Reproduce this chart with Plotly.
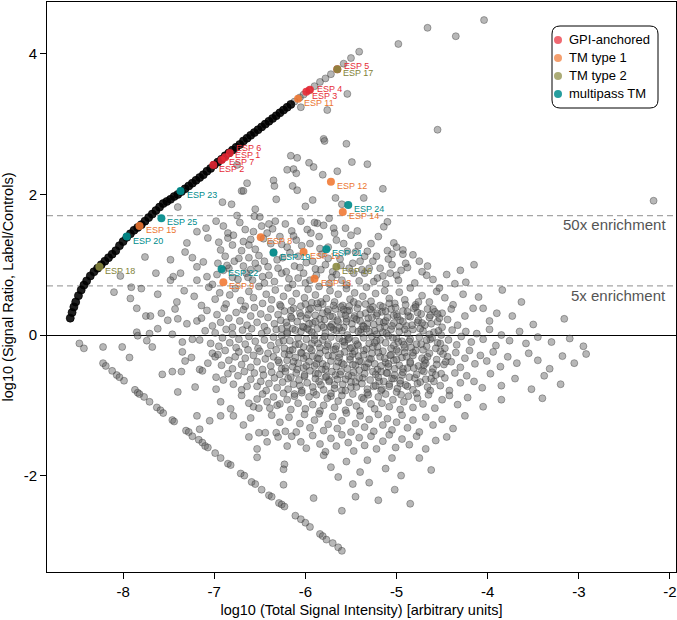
import math
import plotly.graph_objects as go

# ---------------- data ----------------
# dense upper boundary curve (label only, control at floor)
curve_x = [-8.58,-8.56,-8.54,-8.52,-8.49,-8.46,-8.43,-8.40,-8.36,-8.32,-8.28,-8.24,-8.20,-8.16,-8.12,-8.08,
           -8.04,-8.00,-7.96,-7.92,-7.88,-7.84,-7.80,-7.76,-7.72,-7.68,-7.64,-7.60,-7.56,-7.52,-7.48,-7.44,
           -7.40,-7.36,-7.32,-7.28,-7.24,-7.20,-7.16,-7.12,-7.08,-7.04,-7.00,-6.96,-6.92,-6.88,-6.84,-6.80,
           -6.76,-6.72,-6.68,-6.64,-6.60,-6.56,-6.52,-6.48,-6.44,-6.40,-6.36,-6.32,-6.28,-6.24,-6.20,-6.16]
curve_y = [0.24,0.32,0.40,0.47,0.56,0.64,0.71,0.77,0.84,0.90,0.95,1.00,1.05,1.10,1.15,1.20,
           1.27,1.33,1.39,1.44,1.49,1.53,1.57,1.62,1.67,1.72,1.77,1.82,1.87,1.90,1.93,1.97,
           2.00,2.04,2.08,2.12,2.16,2.20,2.24,2.28,2.33,2.37,2.42,2.46,2.50,2.55,2.59,2.63,
           2.67,2.71,2.76,2.80,2.84,2.88,2.92,2.96,3.00,3.04,3.08,3.12,3.16,3.20,3.24,3.28]

# lower boundary line (control only)
lower_x = [-8.48,-8.43,-8.22,-8.19,-8.12,-8.07,-8.04,-7.99,-7.87,-7.84,-7.82,-7.77,-7.71,-7.63,-7.59,-7.56,
           -7.46,-7.44,-7.31,-7.28,-7.24,-7.17,-7.13,-7.10,-7.07,-6.99,-6.93,-6.85,-6.82,-6.71,-6.67,-6.59,
           -6.55,-6.48,-6.40,-6.37,-6.29,-6.26,-6.23,-6.11,-6.05,-6.00,-5.95,-5.84,-5.81,-5.77,-5.70,-5.64,-5.60]
lower_y = [-0.12,-0.19,-0.40,-0.44,-0.51,-0.57,-0.60,-0.65,-0.78,-0.82,-0.84,-0.88,-0.95,-1.03,-1.07,-1.11,
           -1.21,-1.23,-1.36,-1.38,-1.44,-1.49,-1.53,-1.58,-1.60,-1.68,-1.75,-1.83,-1.85,-1.97,-2.00,-2.09,
           -2.12,-2.20,-2.28,-2.30,-2.39,-2.41,-2.44,-2.57,-2.62,-2.67,-2.73,-2.83,-2.86,-2.91,-2.96,-3.02,-3.07]

# general protein cloud, upper part (y > 0.7)
cloud_upper = [
    (-6.12,3.32),(-6.06,3.38),(-6.02,3.42),(-5.96,3.48),(-5.90,3.54),(-5.84,3.60),(-5.78,3.65),(-5.72,3.71),
    (-5.58,3.86),(-5.50,3.94),(-5.41,4.03),(-4.98,4.14),(-4.66,4.37),(-4.35,4.25),(-4.04,4.48),
    (-5.54,3.43),(-5.76,3.20),(-6.05,3.24),(-5.80,2.79),(-4.55,2.92),
    (-5.79,2.76),(-5.55,2.72),(-6.16,2.55),(-6.09,2.52),(-5.96,2.45),(-5.91,2.39),(-6.20,2.35),(-6.13,2.36),
    (-6.10,2.30),(-6.75,2.42),(-5.81,2.28),(-5.49,2.46),(-6.64,2.16),(-6.35,2.20),(-6.34,2.12),(-6.14,2.12),
    (-6.09,2.06),(-6.70,2.05),(-6.68,2.05),(-5.32,2.43),(-5.65,2.33),(-5.15,2.08),(-5.36,1.95),(-5.67,1.95),
    (-6.32,1.93),(-5.92,1.92),(-6.00,1.83),(-6.91,1.89),(-6.81,1.86),(-6.55,1.79),(-6.56,1.69),(-5.60,1.86),
    (-5.74,1.66),(-5.10,1.61),(-5.14,1.54),(-5.87,1.59),(-5.69,1.52),(-5.56,1.52),(-7.40,1.82),
    (-7.76,1.11),(-7.64,0.88),(-8.03,0.84),(-7.91,0.68),(-7.48,1.07),(-7.37,0.88),(-7.45,0.83),
    (-7.48,0.78),(-7.32,1.18),(-7.24,1.10),(-7.19,0.97),(-7.19,0.78),(-7.12,1.04),(-7.08,0.83),(-7.19,1.47),
    (-7.09,1.52),(-7.07,1.38),(-7.30,1.31),
    (-6.98,1.62),(-6.90,1.55),(-6.85,1.45),(-6.95,1.32),(-6.80,1.28),(-6.72,1.60),(-6.66,1.50),(-6.60,1.36),
    (-6.70,1.20),(-6.88,1.12),(-6.96,1.02),(-6.78,1.05),(-6.62,1.10),(-6.55,1.22),(-6.48,1.55),(-6.42,1.45),
    (-6.38,1.30),(-6.45,1.05),(-6.52,0.95),(-6.65,0.88),(-6.80,0.82),(-6.58,0.78),(-6.40,0.85),(-6.30,0.95),
    (-6.25,1.10),(-6.20,1.25),(-6.28,1.40),(-6.22,1.58),(-6.15,1.48),(-6.10,1.35),(-6.05,1.62),(-5.98,1.50),
    (-5.95,1.30),(-6.08,1.12),(-6.12,0.98),(-6.02,0.88),(-6.18,0.80),(-5.92,1.05),(-5.85,1.40),(-5.82,1.15),
    (-5.78,1.00),(-5.88,0.85),(-5.70,0.90),(-5.62,1.08),(-5.58,1.30),(-5.50,1.42),(-5.45,1.18),(-5.52,0.95),
    (-5.40,1.05),(-5.35,0.88),(-5.28,1.30),(-5.22,1.12),(-5.18,0.95),(-5.10,1.20),(-5.05,1.00),(-5.00,0.85),
    (-4.93,1.21),(-4.93,1.15),(-5.05,1.15),(-5.42,1.27),(-5.35,1.12),(-5.03,1.31),(-6.33,1.62),(-6.50,1.68),
    (-6.75,1.70),(-6.90,0.92),(-7.02,0.72),(-6.45,0.74),(-6.00,0.74),(-5.60,0.78),(-5.25,0.76),(-6.68,0.98),
    (-6.35,1.18),(-5.75,1.25),(-6.40,1.58),(-6.62,1.28),(-5.90,1.60),(-5.68,1.45),(-6.85,1.38),(-6.55,1.02),
    (-4.15,1.00),(-4.66,0.98),(-4.95,0.92),(-4.67,0.85),(-4.24,0.75),
    (-6.97,0.86),(-6.84,0.95),(-6.74,0.79),(-6.60,0.93),(-6.47,0.83),(-6.34,0.76),(-6.26,0.88),(-6.14,0.72),
    (-6.06,0.96),(-5.95,0.78),(-5.83,0.93),(-5.74,0.73),(-5.66,0.86),(-5.55,0.71),(-5.47,0.88),(-5.41,0.77),
    (-5.30,0.95),(-5.21,0.81),(-5.12,0.73),(-5.07,0.88),(-4.98,0.78),(-4.88,0.96),(-4.80,0.74),(-4.72,0.90),
    (-4.60,0.79),(-4.45,0.86),(-4.36,0.73),(-4.30,0.92),
    (-6.93,1.21),(-6.86,0.99),(-6.79,1.42),(-6.73,1.09),(-6.68,1.33),(-6.63,0.82),(-6.57,1.47),(-6.51,1.13),
    (-6.46,1.37),(-6.41,0.97),(-6.36,1.51),(-6.31,1.07),(-6.26,1.29),(-6.21,0.90),(-6.17,1.17),(-6.13,1.41),
    (-6.08,0.81),(-6.04,1.27),(-5.99,1.03),(-5.94,1.45),(-5.89,0.94),(-5.84,1.23),(-5.80,1.56),(-5.75,1.09),
    (-5.71,0.82),(-5.66,1.35),(-5.61,0.99),(-5.54,1.19),(-5.48,1.02),(-5.43,1.48),(-5.38,0.93),(-5.32,1.19),
    (-5.26,1.05),(-5.20,1.40),(-5.15,0.84),(-5.09,1.08),(-5.00,1.25),(-4.90,1.02),(-4.82,1.14),(-4.75,1.05),
    (-2.18,1.91),
]

# general protein cloud, middle part (-0.5 .. 0.7)
cloud_middle = [
    (-8.10,0.61),(-7.92,0.52),(-7.80,0.66),(-7.62,0.58),(-7.41,0.47),(-7.33,0.63),(-7.22,0.55),(-7.14,0.42),
    (-7.06,0.68),(-6.99,0.51),(-6.94,0.60),(-6.87,0.44),(-6.83,0.57),(-6.77,0.66),(-6.71,0.49),(-6.66,0.41),
    (-6.62,0.62),(-6.57,0.53),(-6.51,0.69),(-6.47,0.45),(-6.43,0.58),(-6.37,0.50),(-6.33,0.64),(-6.28,0.43),
    (-6.24,0.55),(-6.19,0.67),(-6.15,0.48),(-6.10,0.59),(-6.05,0.41),(-6.01,0.53),(-5.97,0.65),(-5.93,0.46),
    (-5.89,0.57),(-5.85,0.69),(-5.81,0.44),(-5.77,0.52),(-5.73,0.63),(-5.68,0.47),(-5.64,0.58),(-5.59,0.42),
    (-5.55,0.66),(-5.51,0.51),(-5.46,0.60),(-5.42,0.44),(-5.37,0.55),(-5.33,0.68),(-5.28,0.48),(-5.23,0.59),
    (-5.18,0.42),(-5.13,0.63),(-5.08,0.52),(-5.02,0.45),(-4.97,0.61),(-4.91,0.50),(-4.85,0.67),(-4.79,0.43),
    (-4.72,0.56),(-4.64,0.47),(-4.56,0.62),(-4.47,0.53),(-4.38,0.43),(-4.27,0.58),(-4.10,0.54),(-3.84,0.64),
    (-3.63,0.47),(-4.53,0.67),(-4.76,0.47),
    (-7.85,0.38),(-7.75,0.27),(-7.70,0.27),(-7.58,0.31),(-7.51,0.21),(-7.43,0.37),(-7.40,0.23),(-7.30,0.16),
    (-7.19,0.20),(-7.14,0.24),(-7.08,0.35),(-7.02,0.13),(-6.97,0.29),(-6.93,0.18),(-6.89,0.38),(-6.84,0.24),
    (-6.80,0.11),(-6.76,0.32),(-6.72,0.20),(-6.68,0.36),(-6.64,0.14),(-6.60,0.27),(-6.56,0.39),(-6.53,0.18),
    (-6.49,0.30),(-6.45,0.12),(-6.41,0.25),(-6.38,0.37),(-6.34,0.16),(-6.30,0.29),(-6.27,0.21),(-6.23,0.34),
    (-6.20,0.13),(-6.16,0.26),(-6.13,0.38),(-6.09,0.19),(-6.06,0.31),(-6.02,0.11),(-5.99,0.24),(-5.96,0.36),
    (-5.92,0.17),(-5.89,0.28),(-5.86,0.39),(-5.82,0.14),(-5.79,0.22),(-5.76,0.33),(-5.73,0.12),(-5.70,0.26),
    (-5.67,0.37),(-5.64,0.19),(-5.61,0.30),(-5.58,0.11),(-5.55,0.23),(-5.52,0.35),(-5.49,0.16),(-5.46,0.27),
    (-5.43,0.38),(-5.40,0.20),(-5.37,0.13),(-5.34,0.31),(-5.31,0.24),(-5.28,0.36),(-5.25,0.15),(-5.22,0.28),
    (-5.19,0.19),(-5.16,0.33),(-5.13,0.12),(-5.10,0.25),(-5.06,0.37),(-5.03,0.17),(-5.00,0.29),(-4.96,0.21),
    (-4.93,0.34),(-4.89,0.13),(-4.85,0.26),(-4.81,0.38),(-4.77,0.18),(-4.73,0.30),(-4.69,0.14),(-4.64,0.25),
    (-4.60,0.37),(-4.55,0.19),(-4.50,0.31),(-4.44,0.22),(-4.40,0.37),(-4.33,0.14),(-4.25,0.27),(-4.16,0.38),
    (-4.05,0.38),(-3.98,0.20),(-3.90,0.31),(-3.73,0.27),(-3.50,0.15),(-3.16,0.23),
    (-7.62,0.09),(-7.85,0.04),(-7.84,-0.01),(-7.71,0.02),(-7.74,-0.08),(-7.68,-0.17),(-7.46,0.01),(-7.35,-0.10),
    (-7.24,-0.06),(-7.16,-0.07),(-7.10,0.06),(-7.04,-0.12),(-6.99,0.03),(-6.95,-0.16),(-6.91,-0.04),(-6.87,0.08),
    (-6.83,-0.11),(-6.80,0.01),(-6.76,-0.18),(-6.73,-0.06),(-6.69,0.07),(-6.66,-0.13),(-6.62,-0.02),(-6.59,0.09),
    (-6.55,-0.09),(-6.52,-0.19),(-6.48,0.02),(-6.45,-0.07),(-6.42,0.06),(-6.38,-0.15),(-6.35,-0.03),(-6.32,0.08),
    (-6.29,-0.11),(-6.26,-0.01),(-6.23,-0.19),(-6.20,0.04),(-6.17,-0.08),(-6.14,0.09),(-6.11,-0.14),(-6.08,-0.04),
    (-6.05,0.05),(-6.02,-0.17),(-5.99,-0.06),(-5.96,0.07),(-5.93,-0.12),(-5.90,-0.01),(-5.87,0.09),(-5.84,-0.18),
    (-5.81,-0.07),(-5.78,0.03),(-5.75,-0.13),(-5.72,-0.03),(-5.69,0.08),(-5.66,-0.16),(-5.63,-0.05),(-5.60,0.06),
    (-5.57,-0.10),(-5.54,0.00),(-5.51,-0.19),(-5.48,0.08),(-5.45,-0.08),(-5.42,-0.15),(-5.39,0.03),(-5.36,-0.04),
    (-5.33,0.09),(-5.30,-0.12),(-5.27,-0.02),(-5.24,0.06),(-5.21,-0.17),(-5.18,-0.07),(-5.15,0.04),(-5.12,-0.11),
    (-5.09,-0.01),(-5.06,0.08),(-5.03,-0.15),(-5.00,-0.05),(-4.97,0.05),(-4.94,-0.09),(-4.91,-0.18),(-4.88,0.02),
    (-4.85,-0.06),(-4.82,0.08),(-4.78,-0.13),(-4.75,-0.03),(-4.71,0.06),(-4.67,-0.16),(-4.63,-0.06),(-4.59,0.04),
    (-4.55,-0.11),(-4.51,0.00),(-4.47,-0.19),(-4.43,-0.07),(-4.39,0.07),(-4.34,-0.14),(-4.29,-0.02),(-4.24,0.05),
    (-4.18,-0.10),(-4.12,0.02),(-4.05,-0.06),(-3.98,0.08),(-3.91,-0.15),(-3.85,0.00),(-3.76,-0.08),(-3.65,0.05),
    (-3.58,-0.12),(-3.45,-0.03),(-3.30,-0.10),(-3.10,-0.05),(-2.95,-0.16),
    (-8.22,-0.17),(-8.01,-0.17),(-7.93,-0.32),(-7.46,-0.52),(-7.36,-0.52),(-7.35,-0.24),(-7.32,-0.37),(-7.25,-0.32),
    (-7.16,-0.49),(-7.13,-0.51),(-7.07,-0.40),(-7.02,-0.26),(-6.99,-0.31),(-6.96,-0.28),(-6.92,-0.43),(-6.88,-0.22),
    (-6.84,-0.36),(-6.80,-0.48),(-6.77,-0.31),(-6.73,-0.24),(-6.70,-0.42),(-6.66,-0.33),(-6.63,-0.21),(-6.60,-0.46),
    (-6.57,-0.29),(-6.53,-0.38),(-6.50,-0.23),(-6.47,-0.49),(-6.44,-0.34),(-6.41,-0.26),(-6.38,-0.44),(-6.35,-0.31),
    (-6.32,-0.21),(-6.29,-0.39),(-6.26,-0.48),(-6.23,-0.27),(-6.20,-0.36),(-6.17,-0.22),(-6.14,-0.45),(-6.11,-0.32),
    (-6.08,-0.40),(-6.05,-0.25),(-6.02,-0.47),(-5.99,-0.30),(-5.96,-0.38),(-5.93,-0.22),(-5.90,-0.44),(-5.87,-0.33),
    (-5.84,-0.26),(-5.81,-0.41),(-5.78,-0.49),(-5.75,-0.29),(-5.72,-0.37),(-5.69,-0.21),(-5.66,-0.45),(-5.63,-0.32),
    (-5.60,-0.40),(-5.57,-0.24),(-5.54,-0.48),(-5.51,-0.35),(-5.48,-0.27),(-5.45,-0.43),(-5.42,-0.30),(-5.39,-0.38),
    (-5.36,-0.22),(-5.33,-0.46),(-5.30,-0.34),(-5.27,-0.26),(-5.24,-0.41),(-5.21,-0.49),(-5.18,-0.31),(-5.15,-0.23),
    (-5.12,-0.39),(-5.09,-0.45),(-5.06,-0.28),(-5.03,-0.36),(-5.00,-0.21),(-4.97,-0.43),(-4.94,-0.32),(-4.91,-0.25),
    (-4.88,-0.47),(-4.85,-0.38),(-4.82,-0.29),(-4.79,-0.22),(-4.76,-0.44),(-4.72,-0.33),(-4.68,-0.40),(-4.64,-0.26),
    (-4.60,-0.48),(-4.56,-0.35),(-4.52,-0.23),(-4.48,-0.42),(-4.44,-0.31),(-4.40,-0.38),(-4.35,-0.25),(-4.30,-0.46),
    (-4.25,-0.33),(-4.20,-0.22),(-4.14,-0.41),(-4.08,-0.29),(-4.01,-0.37),(-3.94,-0.24),(-3.86,-0.45),(-3.78,-0.31),
    (-3.68,-0.40),(-3.55,-0.26),(-3.45,-0.36),(-3.32,-0.48),(-3.18,-0.30),(-3.05,-0.40),(-2.92,-0.27),
]

# dense core of the cloud
cloud_core = [
    (-6.27,0.41),(-6.19,-0.62),(-6.11,0.07),(-6.02,-0.33),(-5.97,0.29),(-5.91,-0.81),(-5.86,-0.12),(-5.83,0.47),
    (-5.77,-0.44),(-5.71,0.15),(-5.68,-0.71),(-5.62,-0.27),(-5.58,0.36),(-5.53,-0.06),(-5.49,-0.58),(-5.44,0.22),
    (-5.41,-0.37),(-5.34,0.44),(-5.31,-0.85),(-5.26,-0.17),(-5.21,0.31),(-5.17,-0.52),(-5.11,0.02),(-5.07,-0.29),
    (-5.01,0.39),(-4.96,-0.69),(-4.92,-0.14),(-4.87,0.27),(-4.81,-0.47),(-4.74,0.09),(-4.69,-0.36),(-4.63,-0.79),
    (-4.58,0.33),(-4.52,-0.12),
    (-6.24,-0.08),(-6.16,0.35),(-6.09,-0.49),(-6.03,0.12),(-5.95,-0.19),(-5.89,-0.55),(-5.84,0.23),(-5.79,-0.02),
    (-5.74,-0.64),(-5.69,0.42),(-5.64,-0.38),(-5.59,-0.09),(-5.55,0.19),(-5.50,-0.74),(-5.46,-0.23),(-5.39,0.08),
    (-5.35,-0.46),(-5.29,0.37),(-5.24,-0.11),(-5.19,-0.66),(-5.14,0.18),(-5.09,-0.41),(-5.04,-0.04),(-4.99,0.26),
    (-4.94,-0.57),(-4.89,-0.31),(-4.83,0.14),(-4.78,-0.83),(-4.71,-0.21),(-4.66,0.37),(-4.61,-0.53),(-4.54,0.06),
    (-4.49,-0.27),
    (-6.30,-0.36),(-6.21,0.18),(-6.14,-0.21),(-6.06,-0.72),(-6.00,0.44),(-5.93,0.04),(-5.88,-0.41),(-5.81,0.31),
    (-5.76,-0.16),(-5.72,-0.87),(-5.66,0.06),(-5.61,-0.52),(-5.56,0.28),(-5.51,-0.31),(-5.47,0.47),(-5.43,-0.13),
    (-5.37,-0.61),(-5.32,0.16),(-5.28,-0.34),(-5.22,0.01),(-5.16,-0.77),(-5.12,0.34),(-5.06,-0.19),(-5.02,-0.48),
    (-4.97,0.12),(-4.90,0.43),(-4.86,-0.09),(-4.80,-0.61),(-4.76,0.21),(-4.70,-0.43),(-4.64,0.01),(-4.59,-0.66),
    (-4.53,0.24),(-4.46,-0.38),
    (-6.26,0.09),(-6.18,-0.28),(-6.12,-0.84),(-6.05,0.27),(-5.99,-0.44),(-5.94,0.38),(-5.90,-0.07),(-5.85,-0.66),
    (-5.80,0.11),(-5.75,0.36),(-5.70,-0.30),(-5.65,0.21),(-5.60,-0.79),(-5.57,-0.15),(-5.52,0.41),(-5.48,-0.42),
    (-5.42,0.05),(-5.38,-0.89),(-5.33,-0.20),(-5.27,0.25),(-5.23,-0.56),(-5.18,0.10),(-5.13,-0.33),(-5.08,0.45),
    (-5.03,-0.62),(-4.98,-0.24),(-4.93,0.19),(-4.88,-0.73),(-4.84,-0.18),(-4.77,0.32),(-4.72,-0.50),(-4.67,-0.07),
    (-4.62,0.16),(-4.56,-0.42),(-4.50,0.11),
    (-6.22,-0.47),(-6.15,0.24),(-6.07,-0.13),(-6.01,-0.59),(-5.96,0.16),(-5.92,-0.30),(-5.87,0.45),(-5.82,-0.49),
    (-5.78,-0.22),(-5.73,0.27),(-5.67,-0.57),(-5.63,0.10),(-5.58,-0.42),(-5.54,0.34),(-5.49,-0.18),(-5.45,-0.67),
    (-5.40,0.29),(-5.36,-0.28),(-5.30,0.05),(-5.25,-0.73),(-5.20,-0.25),(-5.15,0.40),(-5.10,-0.54),(-5.05,0.13),
    (-5.00,-0.35),(-4.95,-0.85),(-4.91,0.08),(-4.85,-0.40),(-4.79,0.40),(-4.73,-0.13),(-4.68,-0.63),(-4.63,0.28),
    (-4.57,-0.19),(-4.51,-0.55),
    (-6.20,0.02),(-6.13,-0.38),(-6.04,-0.26),(-5.98,0.09),(-5.89,0.19),(-5.85,-0.34),(-5.78,-0.60),(-5.72,0.11),
    (-5.67,-0.20),(-5.61,0.40),(-5.56,-0.63),(-5.52,-0.04),(-5.47,0.24),(-5.41,-0.50),(-5.36,0.12),(-5.31,-0.40),
    (-5.26,0.40),(-5.22,-0.08),(-5.17,-0.44),(-5.12,0.20),(-5.08,-0.70),(-5.03,0.28),(-4.98,-0.10),(-4.93,-0.48),
    (-4.88,0.33),(-4.82,-0.25),(-4.77,-0.69),(-4.72,0.17),(-4.66,-0.31),(-4.61,-0.04),(-4.55,0.30),
]

# general protein cloud, lower part (y < -0.5)
cloud_lower = [
    (-7.57,-0.56),(-7.40,-0.81),(-7.21,-0.74),(-6.98,-0.77),(-6.98,-0.60),(-6.90,-0.64),(-6.85,-0.55),(-6.79,-0.70),
    (-6.74,-0.58),(-6.70,-0.78),(-6.67,-0.52),(-6.64,-0.73),(-6.60,-0.63),(-6.56,-0.54),(-6.53,-0.73),(-6.49,-0.66),
    (-6.46,-0.57),(-6.43,-0.79),(-6.40,-0.69),(-6.37,-0.53),(-6.34,-0.61),(-6.31,-0.75),(-6.28,-0.56),(-6.25,-0.67),
    (-6.22,-0.52),(-6.19,-0.77),(-6.16,-0.60),(-6.13,-0.70),(-6.10,-0.54),(-6.07,-0.64),(-6.04,-0.79),(-6.01,-0.57),
    (-5.98,-0.68),(-5.95,-0.51),(-5.92,-0.74),(-5.89,-0.62),(-5.86,-0.55),(-5.83,-0.71),(-5.80,-0.78),(-5.77,-0.59),
    (-5.74,-0.66),(-5.71,-0.52),(-5.68,-0.76),(-5.65,-0.63),(-5.62,-0.56),(-5.59,-0.70),(-5.56,-0.79),(-5.53,-0.58),
    (-5.50,-0.67),(-5.47,-0.53),(-5.44,-0.74),(-5.41,-0.61),(-5.38,-0.69),(-5.35,-0.55),(-5.32,-0.77),(-5.29,-0.64),
    (-5.26,-0.52),(-5.23,-0.72),(-5.20,-0.60),(-5.17,-0.79),(-5.14,-0.66),(-5.11,-0.54),(-5.08,-0.73),(-5.05,-0.62),
    (-5.02,-0.57),(-4.99,-0.76),(-4.96,-0.65),(-4.93,-0.53),(-4.90,-0.71),(-4.86,-0.60),(-4.82,-0.78),(-4.78,-0.56),
    (-4.74,-0.67),(-4.70,-0.52),(-4.66,-0.74),(-4.62,-0.62),(-4.57,-0.57),(-4.52,-0.72),(-4.47,-0.61),(-4.42,-0.79),
    (-4.36,-0.54),(-4.30,-0.68),(-4.23,-0.58),(-4.15,-0.66),(-4.06,-0.75),(-3.97,-0.55),(-3.85,-0.72),(-3.70,-0.62),
    (-3.52,-0.77),(-3.38,-0.58),(-3.20,-0.70),
    (-6.93,-0.95),(-6.82,-1.05),(-6.70,-0.86),(-6.62,-0.97),(-6.57,-1.02),(-6.53,-0.91),(-6.51,-1.04),(-6.47,-0.84),
    (-6.42,-0.95),(-6.39,-1.04),(-6.35,-0.88),(-6.31,-1.00),(-6.28,-0.98),(-6.24,-0.83),(-6.20,-0.92),(-6.16,-1.06),
    (-6.12,-0.87),(-6.08,-0.97),(-6.04,-0.82),(-6.00,-1.05),(-5.96,-0.88),(-5.92,-0.99),(-5.88,-0.85),(-5.84,-1.08),
    (-5.80,-1.00),(-5.76,-0.90),(-5.72,-0.83),(-5.68,-1.03),(-5.64,-0.94),(-5.60,-0.86),(-5.56,-1.07),(-5.52,-0.96),
    (-5.48,-0.84),(-5.44,-1.01),(-5.40,-1.08),(-5.36,-0.91),(-5.32,-0.82),(-5.28,-0.98),(-5.24,-1.05),(-5.20,-0.88),
    (-5.16,-0.97),(-5.12,-0.84),(-5.08,-1.02),(-5.04,-0.92),(-5.00,-0.81),(-4.96,-1.06),(-4.92,-0.95),(-4.87,-0.87),
    (-4.82,-1.03),(-4.77,-0.90),(-4.71,-0.98),(-4.65,-0.85),(-4.58,-1.04),(-4.50,-0.92),(-4.42,-0.86),(-4.33,-0.99),
    (-4.22,-0.89),(-4.05,-1.02),(-3.85,-0.92),(-3.40,-0.90),
    (-7.19,-1.15),(-7.05,-1.22),(-7.16,-1.34),(-6.93,-1.15),(-6.79,-1.15),(-6.68,-1.28),(-6.60,-1.18),(-6.51,-1.39),
    (-6.44,-1.39),(-6.37,-1.14),(-6.32,-1.39),(-6.28,-1.24),(-6.22,-1.37),(-6.18,-1.17),(-6.10,-1.38),(-6.06,-1.26),
    (-6.01,-1.13),(-5.95,-1.32),(-5.90,-1.21),(-5.85,-1.12),(-5.80,-1.36),(-5.75,-1.27),(-5.70,-1.16),(-5.65,-1.33),
    (-5.60,-1.22),(-5.55,-1.11),(-5.50,-1.38),(-5.45,-1.26),(-5.40,-1.15),(-5.35,-1.31),(-5.30,-1.20),(-5.25,-1.37),
    (-5.20,-1.13),(-5.15,-1.28),(-5.10,-1.19),(-5.05,-1.35),(-5.00,-1.24),(-4.94,-1.14),(-4.88,-1.32),(-4.82,-1.21),
    (-4.75,-1.38),(-4.68,-1.17),(-4.60,-1.28),(-4.50,-1.20),(-4.38,-1.33),(-4.25,-1.15),
    (-6.62,-1.45),(-6.53,-1.62),(-6.42,-1.52),(-6.30,-1.45),(-6.15,-1.44),(-6.20,-1.58),(-6.05,-1.52),(-5.99,-1.61),
    (-5.92,-1.43),(-5.84,-1.55),(-5.78,-1.66),(-5.72,-1.47),(-5.66,-1.58),(-5.60,-1.42),(-5.53,-1.53),(-5.47,-1.65),
    (-5.41,-1.46),(-5.35,-1.57),(-5.28,-1.44),(-5.22,-1.62),(-5.15,-1.51),(-5.08,-1.42),(-5.01,-1.60),(-4.94,-1.48),
    (-4.86,-1.56),(-4.78,-1.44),(-4.68,-1.62),(-4.57,-1.50),(-4.45,-1.45),
    (-6.53,-1.74),(-6.23,-1.84),(-6.24,-1.91),(-6.24,-2.13),(-5.91,-2.32),(-5.64,-2.02),(-5.80,-1.71),(-5.72,-1.88),
    (-5.55,-1.80),(-5.48,-2.12),(-5.40,-1.95),(-5.32,-1.78),(-5.30,-2.10),(-5.20,-2.35),(-5.12,-1.90),(-5.05,-1.75),
    (-4.95,-2.00),(-5.45,-2.30),(-4.75,-1.75),(-4.62,-1.92),(-5.60,-2.50),(-4.85,-2.40),(-5.02,-2.20),
]
cloud_points = cloud_upper + cloud_middle + cloud_core + cloud_lower
cloud_x = [p[0] for p in cloud_points]
cloud_y = [p[1] for p in cloud_points]

# highlighted surface proteins
esp_labels = ["ESP 1","ESP 2","ESP 3","ESP 4","ESP 5","ESP 6","ESP 7",
              "ESP 8","ESP 9","ESP 10","ESP 11","ESP 12","ESP 13","ESP 14","ESP 15",
              "ESP 16","ESP 17","ESP 18",
              "ESP 19","ESP 20","ESP 21","ESP 22","ESP 23","ESP 24","ESP 25"]
esp_x = [-6.88,-7.01,-5.99,-5.95,-5.65,-6.83,-6.92,
         -6.49,-6.90,-6.02,-6.08,-5.72,-5.90,-5.59,-7.82,
         -5.66,-5.65,-8.26,
         -6.35,-7.96,-5.77,-6.92,-7.37,-5.53,-7.58]
esp_y = [2.53,2.42,3.46,3.49,3.78,2.59,2.49,
         1.39,0.75,1.18,3.36,2.18,0.80,1.75,1.55,
         0.97,3.78,0.97,
         1.17,1.40,1.22,0.94,2.05,1.85,1.66]
esp_class = ["GPI-anchored"]*7 + ["TM type 1"]*8 + ["TM type 2"]*3 + ["multipass TM"]*7

classes = ["GPI-anchored", "TM type 1", "TM type 2", "multipass TM"]
enrich_levels = [50, 5]
enrich_labels = ["50x enrichment", "5x enrichment"]

x_ticks = [-8, -7, -6, -5, -4, -3, -2]
y_ticks = [-2, 0, 2, 4]

# ---------------- style / layout ----------------
W, H = 677, 620
ML, MR, MT, MB = 47, 1, 2, 48
PW, PH = W - ML - MR, H - MT - MB
FONT = "Liberation Sans, Arial, Helvetica, sans-serif"
class_color = {"GPI-anchored": "rgba(232,40,52,0.88)",
               "TM type 1": "rgba(240,118,48,0.88)",
               "TM type 2": "rgba(135,135,60,0.88)",
               "multipass TM": "rgba(0,140,140,0.92)"}
legend_color = {"GPI-anchored": "rgba(232,40,52,0.7)",
                "TM type 1": "rgba(240,118,48,0.7)",
                "TM type 2": "rgba(135,135,60,0.7)",
                "multipass TM": "rgba(0,140,140,0.85)"}
text_color = {"GPI-anchored": "rgb(230,45,55)",
              "TM type 1": "rgb(236,118,48)",
              "TM type 2": "rgb(130,130,55)",
              "multipass TM": "rgb(0,140,140)"}
# label offsets in pixels (right, down) from the point centre
label_offset = {"ESP 1": (8, -2), "ESP 4": (5, -1), "ESP 5": (5, -3), "ESP 6": (4, -5), "ESP 7": (5, 2)}
default_offset = (4, 4)


def px2paper(px, py):
    return (px - ML) / PW, (H - MB - py) / PH


fig = go.Figure()

gray_marker = dict(size=7, color="rgba(95,95,95,0.45)",
                   line=dict(width=0.8, color="rgba(40,40,40,0.45)"))
fig.add_trace(go.Scatter(x=cloud_x, y=cloud_y, mode="markers", marker=gray_marker,
                         showlegend=False, hoverinfo="skip"))
fig.add_trace(go.Scatter(x=lower_x, y=lower_y, mode="markers", marker=gray_marker,
                         showlegend=False, hoverinfo="skip"))
fig.add_trace(go.Scatter(x=curve_x, y=curve_y, mode="markers",
                         marker=dict(size=8, color="rgba(0,0,0,0.88)",
                                     line=dict(width=0.8, color="rgba(0,0,0,0.9)")),
                         showlegend=False, hoverinfo="skip"))

for cls in classes:
    idx = [i for i, c in enumerate(esp_class) if c == cls]
    fig.add_trace(go.Scatter(x=[esp_x[i] for i in idx], y=[esp_y[i] for i in idx],
                             mode="markers", name=cls, showlegend=False,
                             marker=dict(size=8, color=class_color[cls], line=dict(width=0))))

annotations = []
for lab, x, y, cls in zip(esp_labels, esp_x, esp_y, esp_class):
    dx, dy = label_offset.get(lab, default_offset)
    annotations.append(dict(x=x, y=y, text=lab, showarrow=False, xanchor="left", yanchor="middle",
                            xshift=dx, yshift=-dy,
                            font=dict(family=FONT, size=9, color=text_color[cls])))

shapes = []
for lvl, lab, sh in zip(enrich_levels, enrich_labels, [-9, -10]):
    yv = math.log10(lvl)
    shapes.append(dict(type="line", xref="paper", x0=0, x1=1, yref="y", y0=yv, y1=yv,
                       line=dict(color="rgb(165,165,165)", width=1.3, dash="6px,4px"), layer="below"))
    annotations.append(dict(x=1, xref="paper", xanchor="right", xshift=-8, y=yv, yref="y",
                            yanchor="middle", yshift=sh, text=lab, showarrow=False,
                            font=dict(family=FONT, size=15, color="rgb(85,85,85)")))

# legend box (rounded)
bx0, by0 = px2paper(552, 26)
bx1, by1 = px2paper(658, 108)
rx, ry = 8 / PW, 8 / PH
path = (f"M {bx0+rx},{by0} L {bx1-rx},{by0} Q {bx1},{by0} {bx1},{by0-ry} "
        f"L {bx1},{by1+ry} Q {bx1},{by1} {bx1-rx},{by1} L {bx0+rx},{by1} "
        f"Q {bx0},{by1} {bx0},{by1+ry} L {bx0},{by0-ry} Q {bx0},{by0} {bx0+rx},{by0} Z")
shapes.append(dict(type="path", xref="paper", yref="paper", path=path,
                   line=dict(color="black", width=1), fillcolor="white", layer="above"))
for k, cls in enumerate(classes):
    cy = 40 + k * 18
    mx, my = px2paper(558, cy)
    shapes.append(dict(type="circle", xref="paper", yref="paper", xsizemode="pixel", ysizemode="pixel",
                       xanchor=mx, yanchor=my, x0=-4, x1=4, y0=-4, y1=4,
                       fillcolor=legend_color[cls], line=dict(width=0), layer="above"))
    tx, ty = px2paper(567, cy)
    annotations.append(dict(x=tx, y=ty, xref="paper", yref="paper", xanchor="left", yanchor="middle",
                            text=cls, showarrow=False, font=dict(family=FONT, size=13, color="black")))

fig.update_layout(
    width=W, height=H, margin=dict(l=ML, r=MR, t=MT, b=MB, autoexpand=False),
    plot_bgcolor="white", paper_bgcolor="white",
    font=dict(family=FONT, size=15, color="black"),
    shapes=shapes, annotations=annotations, showlegend=False,
)
fig.update_xaxes(range=[-8.835, -1.934], tickvals=x_ticks, ticktext=[str(t) for t in x_ticks],
                 automargin=False, showgrid=False, zeroline=False, showline=True, linecolor="black",
                 linewidth=1, mirror=True, ticks="outside", ticklen=6, tickcolor="black",
                 tickfont=dict(size=15),
                 title=dict(text="log10 (Total Signal Intensity) [arbitrary units]",
                            font=dict(size=14.5), standoff=5))
fig.update_yaxes(range=[-3.371, 4.737], tickvals=y_ticks, ticktext=[str(t) for t in y_ticks],
                 automargin=False, showgrid=False, zeroline=True, zerolinecolor="black", zerolinewidth=1,
                 showline=True, linecolor="black", linewidth=1,
                 mirror=True, ticks="outside", ticklen=6, tickcolor="black",
                 tickfont=dict(size=15),
                 title=dict(text="log10 (Signal Ratio, Label/Controls)", font=dict(size=14.5), standoff=6))

fig.write_html("out.html", config={"displayModeBar": False},
               post_script="document.body.style.margin='0px';document.body.style.padding='0px';")
